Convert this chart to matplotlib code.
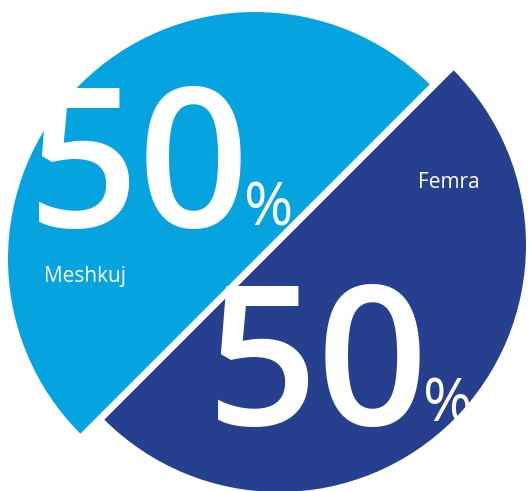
import matplotlib.pyplot as plt

# gender split
labels = ['Meshkuj', 'Femra']
shares = [50, 50]
colors = ['#05A4E0', '#263F8E']

W, H = 529, 491
fig = plt.figure(figsize=(W / 100, H / 100), dpi=100)
ax = fig.add_axes([0, 0, 1, 1])

# pixel-like coordinates, y pointing up
centers = [(255, H - 259), (279, H - 245)]
radius = 247

wedges, _ = ax.pie(shares, colors=colors, startangle=45, counterclock=True,
                   radius=radius, center=centers[0],
                   wedgeprops=dict(linewidth=0))
# second half is shifted off the first one
wedges[1].set_center(centers[1])

ax.set_xlim(0, W)
ax.set_ylim(0, H)
ax.set_aspect('equal')
ax.axis('off')

font = 'Open Sans'
big_pos = [(28, H - 227), (207, H - 425)]
pct_pos = [(244, H - 225), (423, H - 422)]
name_pos = [(44, H - 282), (418, H - 188)]

for i, v in enumerate(shares):
    ax.text(*big_pos[i], f'{v}', color='white', fontsize=140, family=font,
            fontweight='semibold', ha='left', va='baseline', zorder=5)
    ax.text(*pct_pos[i], '%', color='white', fontsize=43, family=font,
            ha='left', va='baseline', zorder=5)
    ax.text(*name_pos[i], labels[i], color='white', fontsize=15, family=font,
            ha='left', va='baseline', zorder=5)

fig.savefig('out.png', dpi=100)
